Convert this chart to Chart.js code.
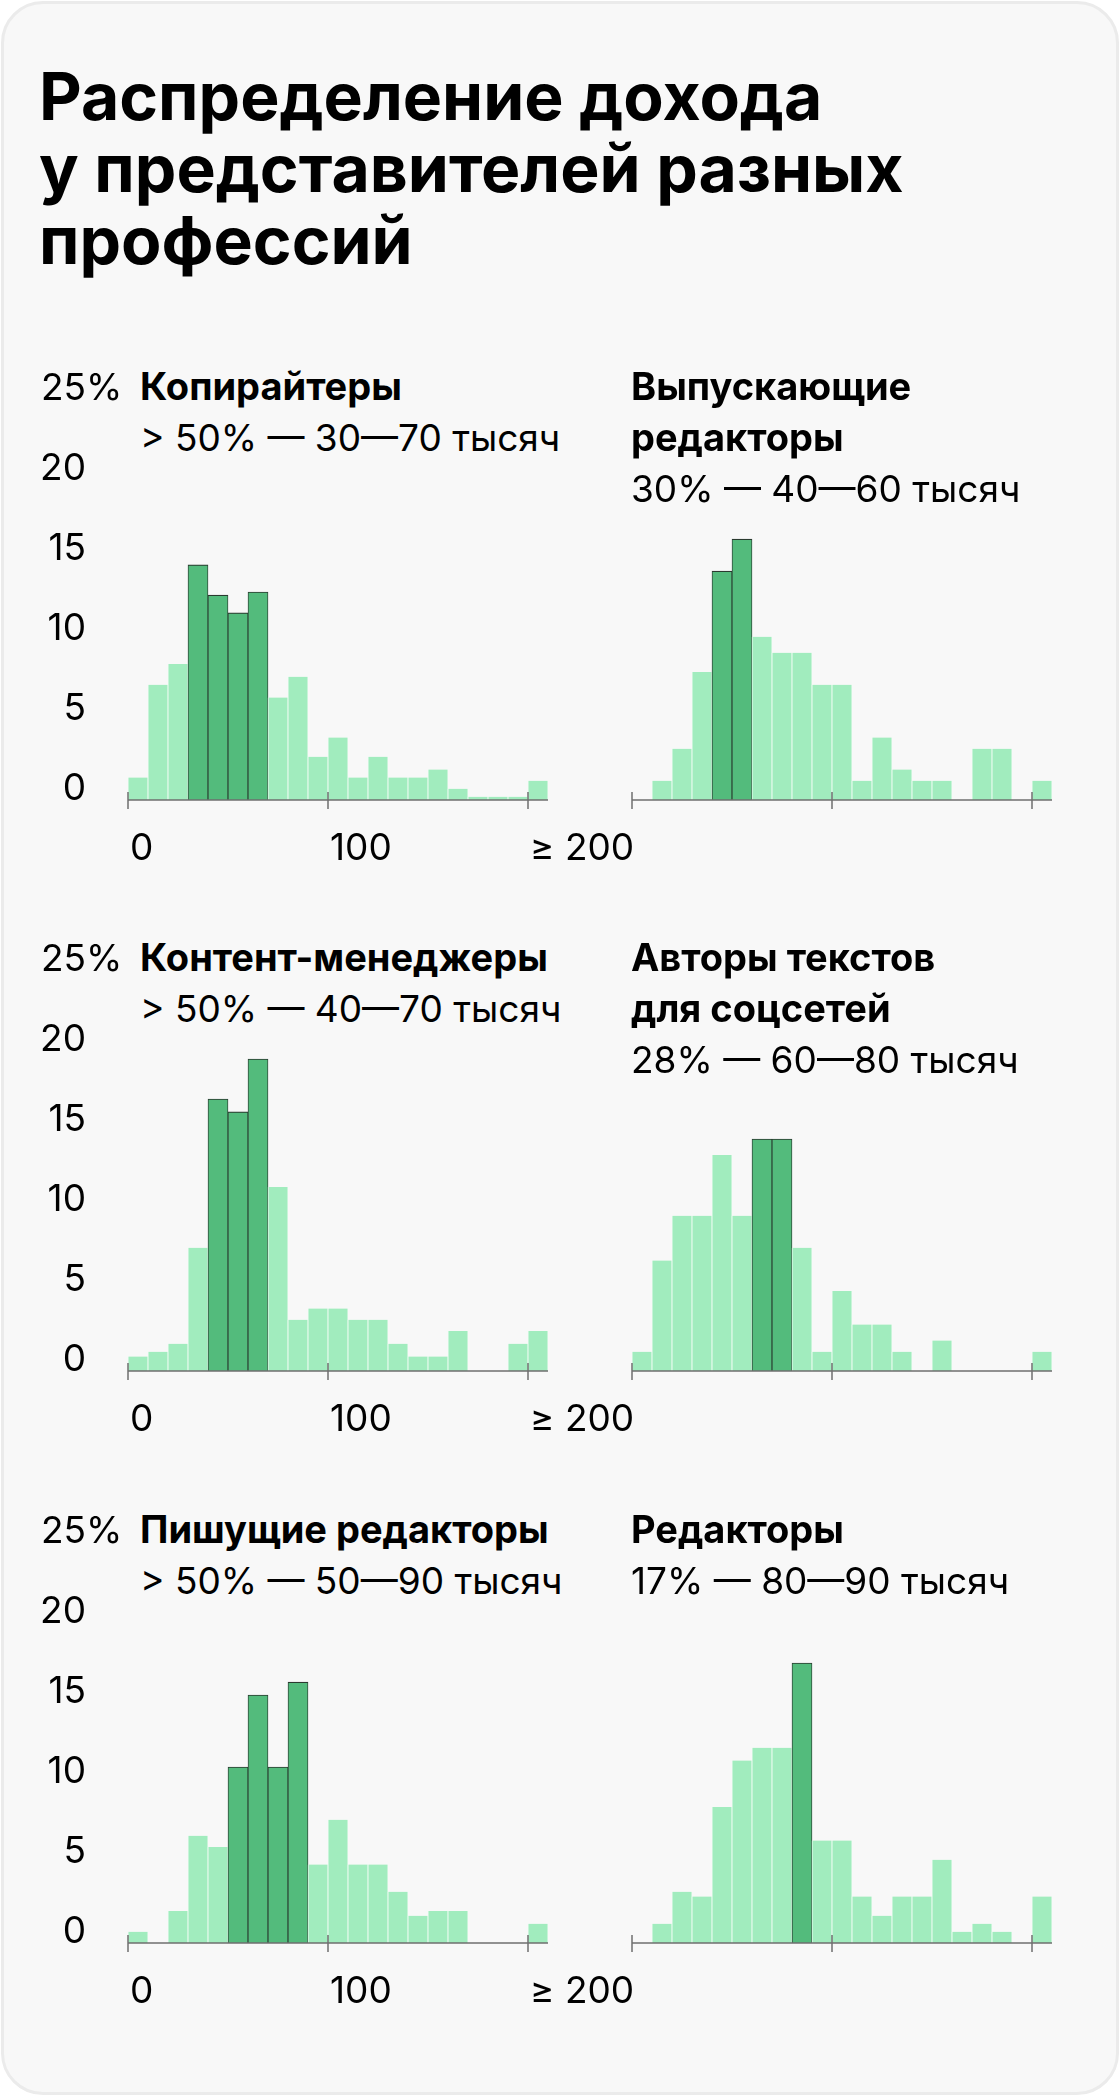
<!DOCTYPE html>
<html lang="ru">
<head>
<meta charset="utf-8">
<script src="https://cdn.jsdelivr.net/npm/chart.js"></script>
<style>
  html, body { margin: 0; padding: 0; background: #fff; }
  body { width: 1120px; height: 2096px; position: relative; overflow: hidden; font-family: Inter, "Noto Sans", sans-serif; color: #000; }
  .card { position: absolute; left: 1px; top: 1px; width: 1118px; height: 2094px; box-sizing: border-box; border: 3px solid #ebebeb; border-radius: 42px; background: #f8f8f8; }
  h1 { position: absolute; left: 39px; top: 60px; margin: 0; font-size: 66px; line-height: 72px; font-weight: 700; }
  .head { position: absolute; font-size: 37px; line-height: 51px; white-space: nowrap; }
  .head b { font-weight: 700; font-size: 38px; }
  canvas { position: absolute; }
</style>
</head>
<body>
<div class="card"></div>
<h1>Распределение дохода<br>у представителей разных<br>профессий</h1>
<div id="panels"></div>

<script>
  // income bins, thousands of rubles (last one is "200 and more")
  var binStarts = [0, 10, 20, 30, 40, 50, 60, 70, 80, 90, 100, 110, 120, 130, 140, 150, 160, 170, 180, 190, 200]
  var binWidth = 10
  var yTicks = [0, 5, 10, 15, 20, 25]
  var xTicks = [0, 100, 200]
  var xTickLabels = ['0', '100', '≥ 200']

  var titles = ['Копирайтеры', 'Выпускающие<br>редакторы', 'Контент-менеджеры', 'Авторы текстов<br>для соцсетей', 'Пишущие редакторы', 'Редакторы']
  var subtitles = ['> 50% — 30—70 тысяч', '30% — 40—60 тысяч', '> 50% — 40—70 тысяч', '28% — 60—80 тысяч', '> 50% — 50—90 тысяч', '17% — 80—90 тысяч']

  // share of people in each bin, %
  var copywriters     = [1.4, 7.2, 8.5, 14.7, 12.8, 11.7, 13.0, 6.4, 7.7, 2.7, 3.9, 1.4, 2.7, 1.4, 1.4, 1.9, 0.7, 0.2, 0.2, 0.2, 1.2]
  var releaseEditors  = [0, 1.2, 3.2, 8.0, 14.3, 16.3, 10.2, 9.2, 9.2, 7.2, 7.2, 1.2, 3.9, 1.9, 1.2, 1.2, 0, 3.2, 3.2, 0, 1.2]
  var contentManagers = [0.9, 1.2, 1.7, 7.7, 17.0, 16.2, 19.5, 11.5, 3.2, 3.9, 3.9, 3.2, 3.2, 1.7, 0.9, 0.9, 2.5, 0, 0, 1.7, 2.5]
  var smmAuthors      = [1.2, 6.9, 9.7, 9.7, 13.5, 9.7, 14.5, 14.5, 7.7, 1.2, 5.0, 2.9, 2.9, 1.2, 0, 1.9, 0, 0, 0, 0, 1.2]
  var writingEditors  = [0.7, 0, 2.0, 6.7, 6.0, 11.0, 15.5, 11.0, 16.3, 4.9, 7.7, 4.9, 4.9, 3.2, 1.7, 2.0, 2.0, 0, 0, 0, 1.2]
  var editors         = [0, 1.2, 3.2, 2.9, 8.5, 11.4, 12.2, 12.2, 17.5, 6.4, 6.4, 2.9, 1.7, 2.9, 2.9, 5.2, 0.7, 1.2, 0.7, 0, 2.9]

  // most common income range for each profession
  var highlight = [[30, 70], [40, 60], [40, 70], [60, 80], [50, 90], [80, 90]]

  var series = [copywriters, releaseEditors, contentManagers, smmAuthors, writingEditors, editors]

  var rowBase = [800, 1371, 1943]   // y of the zero line of each row
  var LIGHT = '#a1ecbe', DARK = '#53bb7c', DARK_LINE = '#2a3a2f', AXIS = '#6f6f6f'

  var axisPlugin = {
    id: 'histAxis',
    afterDatasetsDraw(chart, args, opts) {
      var ctx = chart.ctx
      var x = chart.scales.x, y = chart.scales.y
      var base = y.getPixelForValue(0)
      ctx.save()
      ctx.strokeStyle = AXIS
      ctx.lineWidth = 1.5
      ctx.beginPath()
      ctx.moveTo(x.getPixelForValue(x.min), base)
      ctx.lineTo(x.getPixelForValue(x.max), base)
      xTicks.forEach(function (v) {
        var px = x.getPixelForValue(v)
        ctx.moveTo(px, base - 8)
        ctx.lineTo(px, base + 9)
      })
      ctx.stroke()

      if (opts.labels) {
        ctx.fillStyle = '#000'
        ctx.font = '37px Inter'
        ctx.textBaseline = 'alphabetic'
        ctx.textAlign = 'left'
        xTicks.forEach(function (v, i) {
          ctx.fillText(xTickLabels[i], x.getPixelForValue(v) + 2, base + 60)
        })
        var lx = chart.chartArea.left - 42
        yTicks.forEach(function (v) {
          var py = y.getPixelForValue(v)
          ctx.textAlign = 'right'
          ctx.fillText(String(v), lx, py)
          if (v == 25) {
            ctx.textAlign = 'left'
            ctx.fillText('%', lx, py)
          }
        })
      }
      ctx.restore()
    }
  }

  var panels = document.getElementById('panels')

  series.forEach(function (vals, k) {
    var col = k % 2, row = Math.floor(k / 2)
    var base = rowBase[row]
    var left = col == 0

    // heading
    var head = document.createElement('div')
    head.className = 'head'
    head.style.left = (left ? 140 : 631) + 'px'
    head.style.top = (base - 439) + 'px'
    head.innerHTML = '<b>' + titles[k] + '</b><br>' + subtitles[k]
    panels.appendChild(head)

    // chart
    var cv = document.createElement('canvas')
    var cw = left ? 680 : 540
    cv.width = cw
    cv.height = 520
    cv.style.left = (left ? 0 : 560) + 'px'
    cv.style.top = (base - 440) + 'px'
    panels.appendChild(cv)

    var padLeft = left ? 128 : 72
    var hl = highlight[k]
    var inRange = function (i) { return binStarts[i] >= hl[0] && binStarts[i] < hl[1] }

    new Chart(cv, {
      type: 'bar',
      data: {
        datasets: [{
          data: binStarts.map(function (b, i) { return { x: b + binWidth / 2, y: vals[i] } }),
          backgroundColor: function (c) { return inRange(c.dataIndex) ? DARK : LIGHT },
          borderColor: function (c) { return inRange(c.dataIndex) ? DARK_LINE : '#ffffff' },
          borderWidth: function (c) {
            return inRange(c.dataIndex) ? { left: 0.9, right: 0.9, top: 1.2, bottom: 0 } : { left: 0.75, right: 0.75, top: 0, bottom: 0 }
          },
          borderSkipped: 'start',
          categoryPercentage: 1,
          barPercentage: 1
        }]
      },
      plugins: [axisPlugin],
      options: {
        responsive: false,
        animation: false,
        events: [],
        layout: { padding: { left: padLeft, right: cw - padLeft - 420, top: 40, bottom: 80 } },
        plugins: {
          legend: { display: false },
          tooltip: { enabled: false },
          histAxis: { labels: left }
        },
        scales: {
          x: {
            type: 'linear', min: 0, max: 210, display: false, offset: false,
            grid: { offset: false },
            afterBuildTicks: function (s) { s.ticks = xTicks.map(function (v) { return { value: v } }) }
          },
          y: { min: 0, max: 25, display: false }
        }
      }
    })
  })
</script>
</body>
</html>
